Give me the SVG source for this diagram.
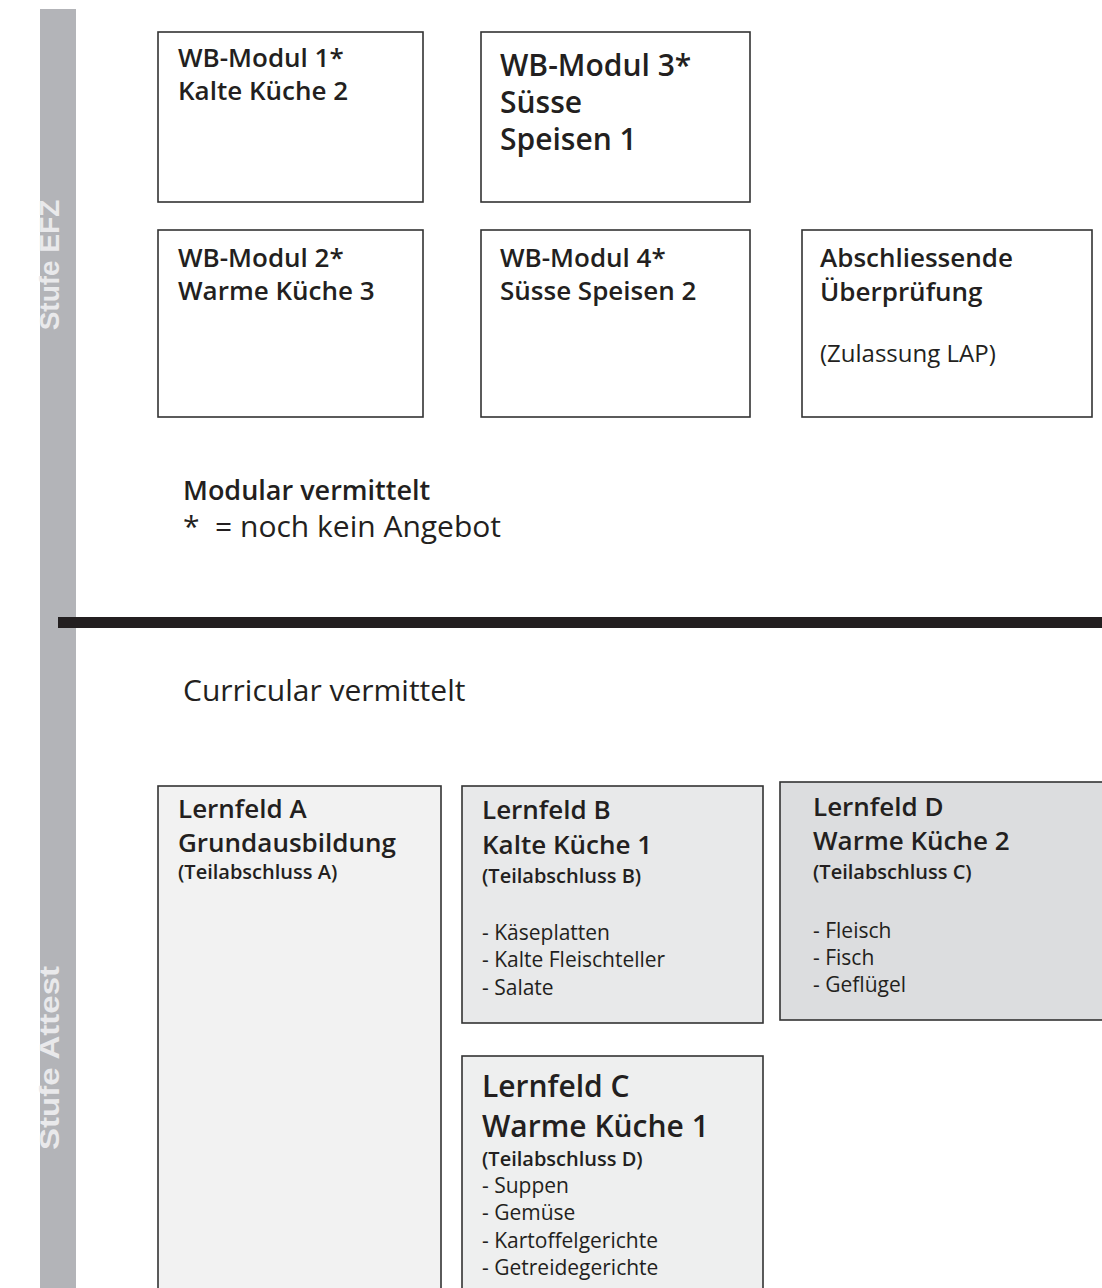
<svg xmlns="http://www.w3.org/2000/svg" width="1102" height="1288" viewBox="0 0 1102 1288">
<style>
.box{stroke:#333;stroke-width:1.6}
.t{font-family:"Open Sans","Liberation Sans",sans-serif;fill:#231f20}
.b{font-weight:600}
.side{font-family:"Liberation Sans",Arial,sans-serif;font-weight:bold;font-size:28px;fill:#e9e9eb;text-anchor:middle}
</style>
<rect width="1102" height="1288" fill="#fff"/>
<g id="sidebar">
<rect x="40" y="9" width="36" height="1279" fill="#b3b4b8"/>
<text class="side" transform="translate(59,265) rotate(-90)">Stufe EFZ</text>
<text class="side" transform="translate(59,1058) rotate(-90)" textLength="184" lengthAdjust="spacingAndGlyphs">Stufe Attest</text>
</g>
<g id="separator"><rect x="58" y="617" width="1044" height="11" fill="#231f20"/></g>
<g id="wb1"><rect class="box" x="158" y="32" width="265" height="170" fill="#fff"/>
<text class="t b" font-size="26"><tspan x="178" y="67">WB-Modul 1*</tspan><tspan x="178" y="100">Kalte Küche 2</tspan></text></g>
<g id="wb3"><rect class="box" x="481" y="32" width="269" height="170" fill="#fff"/>
<text class="t b" font-size="30"><tspan x="500" y="76">WB-Modul 3*</tspan><tspan x="500" y="113">Süsse</tspan><tspan x="500" y="150">Speisen 1</tspan></text></g>
<g id="wb2"><rect class="box" x="158" y="230" width="265" height="187" fill="#fff"/>
<text class="t b" font-size="26"><tspan x="178" y="267">WB-Modul 2*</tspan><tspan x="178" y="300">Warme Küche 3</tspan></text></g>
<g id="wb4"><rect class="box" x="481" y="230" width="269" height="187" fill="#fff"/>
<text class="t b" font-size="26"><tspan x="500" y="267">WB-Modul 4*</tspan><tspan x="500" y="300">Süsse Speisen 2</tspan></text></g>
<g id="abschluss"><rect class="box" x="802" y="230" width="290" height="187" fill="#fff"/>
<text class="t b" font-size="26"><tspan x="820" y="267">Abschliessende</tspan><tspan x="820" y="301">Überprüfung</tspan></text>
<text class="t" font-size="24" x="820" y="362">(Zulassung LAP)</text></g>
<g id="legend-modular">
<text class="t b" font-size="27" x="183" y="500">Modular vermittelt</text>
<text class="t" font-size="30" x="183" y="537" xml:space="preserve">*  = noch kein Angebot</text></g>
<g id="legend-curricular"><text class="t" font-size="30" x="183" y="701">Curricular vermittelt</text></g>
<g id="lfA"><rect class="box" x="158" y="786" width="283" height="510" fill="#f2f2f2"/>
<text class="t b" font-size="26"><tspan x="178" y="818">Lernfeld A</tspan><tspan x="178" y="852">Grundausbildung</tspan></text>
<text class="t b" font-size="20" x="178" y="879">(Teilabschluss A)</text></g>
<g id="lfB"><rect class="box" x="462" y="786" width="301" height="237" fill="#e8e9ea"/>
<text class="t b" font-size="26"><tspan x="482" y="819">Lernfeld B</tspan><tspan x="482" y="854">Kalte Küche 1</tspan></text>
<text class="t b" font-size="20" x="482" y="883">(Teilabschluss B)</text>
<text class="t" font-size="21"><tspan x="482" y="940">- Käseplatten</tspan><tspan x="482" y="967">- Kalte Fleischteller</tspan><tspan x="482" y="995">- Salate</tspan></text></g>
<g id="lfD"><rect class="box" x="780" y="782" width="330" height="238" fill="#dcdddf"/>
<text class="t b" font-size="26"><tspan x="813" y="816">Lernfeld D</tspan><tspan x="813" y="850">Warme Küche 2</tspan></text>
<text class="t b" font-size="20" x="813" y="879">(Teilabschluss C)</text>
<text class="t" font-size="21"><tspan x="813" y="938">- Fleisch</tspan><tspan x="813" y="965">- Fisch</tspan><tspan x="813" y="992">- Geflügel</tspan></text></g>
<g id="lfC"><rect class="box" x="462" y="1056" width="301" height="240" fill="#eeefef"/>
<text class="t b" font-size="30"><tspan x="482" y="1097">Lernfeld C</tspan><tspan x="482" y="1137">Warme Küche 1</tspan></text>
<text class="t b" font-size="20" x="482" y="1166">(Teilabschluss D)</text>
<text class="t" font-size="21"><tspan x="482" y="1193">- Suppen</tspan><tspan x="482" y="1220">- Gemüse</tspan><tspan x="482" y="1248">- Kartoffelgerichte</tspan><tspan x="482" y="1275">- Getreidegerichte</tspan></text></g>
</svg>
